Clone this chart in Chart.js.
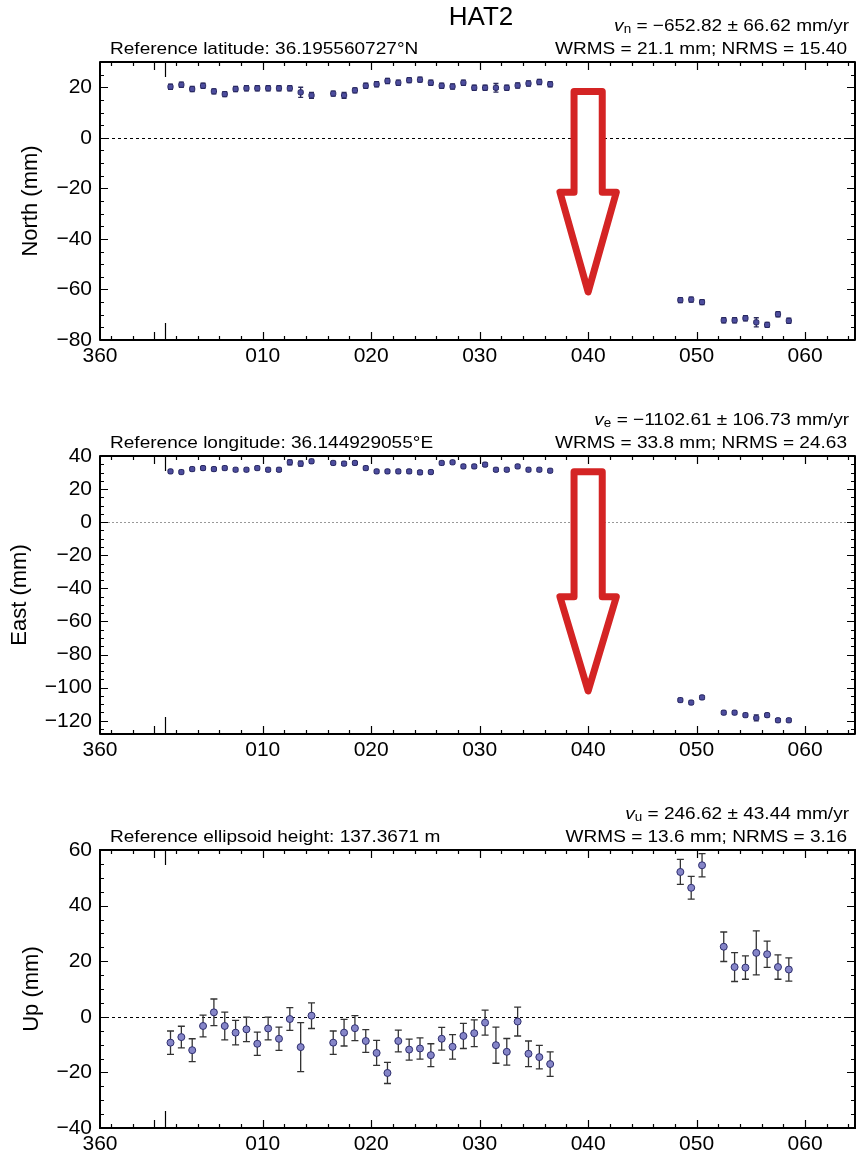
<!DOCTYPE html>
<html>
<head>
<meta charset="utf-8">
<script src="https://cdn.jsdelivr.net/npm/chart.js@4.4.1/dist/chart.umd.min.js"></script>
<style>
  html, body { margin: 0; padding: 0; background: #fff; overflow: hidden; }
  .panel { position: relative; width: 860px; height: 394px; }
</style>
</head>
<body>
<div class="panel"><canvas id="chartNorte"></canvas></div>
<div class="panel"><canvas id="chartEste"></canvas></div>
<div class="panel"><canvas id="chartArriba"></canvas></div>
<script>
// Dias (dia del anio, fraccion; negativos = fin de diciembre)
const dias = [1.5, 2.5, 3.5, 4.5, 5.5, 6.5, 7.5, 8.5, 9.5, 10.5, 11.5, 12.5, 13.5, 14.5,
    16.5, 17.5, 18.5, 19.5, 20.5, 21.5, 22.5, 23.5, 24.5, 25.5, 26.5, 27.5, 28.5, 29.5, 30.5,
    31.5, 32.5, 33.5, 34.5, 35.5, 36.5,
    48.5, 49.5, 50.5, 52.5, 53.5, 54.5, 55.5, 56.5, 57.5, 58.5];

const norte = [20.2, 21.0, 19.3, 20.6, 18.4, 17.3, 19.3, 19.6, 19.6, 19.6, 19.6, 19.6, 18.0, 16.8,
    17.5, 16.8, 18.8, 20.6, 21.2, 22.5, 21.8, 22.8, 23.0, 21.8, 20.6, 20.3, 21.8, 19.8, 19.8,
    19.8, 19.8, 20.7, 21.5, 22.1, 21.2,
    -64.2, -64.0, -65.0, -72.2, -72.2, -71.4, -73.0, -74.0, -69.8, -72.4];
const norteErr = [1.0, 1.0, 1.0, 1.0, 1.0, 1.0, 1.0, 1.0, 1.0, 1.0, 1.0, 1.0, 2.0, 1.2,
    1.0, 1.2, 1.0, 1.0, 1.0, 1.0, 1.0, 1.0, 1.0, 1.0, 1.0, 1.0, 1.0, 1.0, 1.0,
    1.7, 1.0, 1.0, 1.0, 1.0, 1.0,
    1.0, 1.0, 1.0, 1.0, 1.0, 1.0, 1.8, 1.0, 1.0, 1.0];

const este = [30.7, 30.3, 32.1, 32.7, 32.1, 32.7, 31.7, 31.7, 32.7, 31.7, 31.7, 36.2, 35.4, 36.8,
    35.8, 35.4, 35.8, 32.7, 30.7, 30.7, 30.7, 30.7, 30.1, 30.3, 35.8, 36.2, 33.7, 33.7, 34.8,
    31.7, 31.7, 33.7, 31.7, 31.7, 31.1,
    -107.5, -109.0, -105.9, -115.1, -115.1, -116.6, -118.3, -116.6, -119.7, -119.7];
const esteErr = [1.0, 1.0, 1.0, 1.0, 1.0, 1.0, 1.0, 1.0, 1.0, 1.0, 1.0, 1.5, 1.5, 1.2,
    1.0, 1.0, 1.0, 1.0, 1.0, 1.0, 1.0, 1.0, 1.0, 1.0, 1.0, 1.0, 1.0, 1.0, 1.0,
    1.0, 1.0, 1.0, 1.0, 1.0, 1.0,
    1.0, 1.0, 1.0, 1.0, 1.0, 1.0, 1.8, 1.0, 1.0, 1.0];

const arriba = [-9.3, -7.3, -12.0, -3.3, 1.6, -3.3, -5.7, -4.5, -9.7, -4.2, -7.9, -0.8, -10.9, 0.4,
    -9.3, -5.7, -4.1, -8.7, -13.0, -20.2, -8.7, -11.8, -11.4, -13.8, -7.9, -10.8, -6.9, -5.9, -2.1,
    -10.2, -12.6, -1.7, -13.3, -14.5, -17.0,
    52.1, 46.4, 54.5, 25.2, 17.9, 17.7, 23.0, 22.5, 17.9, 17.0];
const arribaErr = [4.2, 3.9, 4.1, 3.9, 4.8, 5.0, 4.4, 4.4, 4.2, 4.1, 4.2, 4.1, 8.8, 4.6,
    4.2, 4.8, 4.5, 4.1, 4.5, 3.8, 3.9, 3.8, 3.8, 4.1, 4.1, 4.4, 4.5, 4.8, 4.5,
    6.5, 4.8, 5.2, 4.6, 4.2, 4.4,
    4.5, 4.1, 4.2, 5.3, 5.2, 4.2, 7.9, 4.7, 4.4, 4.2];

// Marcas de los ejes
const xTicks = [-5, 10, 20, 30, 40, 50, 60];
const xTickLabels = ['360', '010', '020', '030', '040', '050', '060'];
const norteTicks = [-80, -60, -40, -20, 0, 20];
const esteTicks = [-120, -100, -80, -60, -40, -20, 0, 20, 40];
const arribaTicks = [-40, -20, 0, 20, 40, 60];

const fuente = '"Liberation Sans", Arial, Helvetica, sans-serif';
const ESCALA_X = 1.12;  // el texto original es mas ancho

function dibujarTexto(ctx, partes, xDer, y) {
    // partes: [{t, font, dy}] alineadas a la derecha en xDer
    let ancho = 0;
    partes.forEach(p => { ctx.font = p.font; ancho += ctx.measureText(p.t).width; });
    ctx.save();
    ctx.translate(xDer - ancho * ESCALA_X, y);
    ctx.scale(ESCALA_X, 1);
    let x = 0;
    partes.forEach(p => {
        ctx.font = p.font;
        ctx.fillText(p.t, x, p.dy || 0);
        x += ctx.measureText(p.t).width;
    });
    ctx.restore();
}

function pluginPanel(p) {
    return {
        id: 'panel_' + p.id,
        beforeDatasetsDraw(chart) {
            const { ctx, chartArea: a, scales: { x, y } } = chart;
            ctx.save();
            // linea del cero
            ctx.strokeStyle = p.colorCero;
            ctx.lineWidth = 1;
            ctx.setLineDash(p.guionCero);
            ctx.beginPath();
            const y0 = Math.round(y.getPixelForValue(0)) + 0.5;
            ctx.moveTo(a.left, y0);
            ctx.lineTo(a.right, y0);
            ctx.stroke();
            ctx.setLineDash([]);

            // barras de error
            ctx.strokeStyle = p.colorError;
            ctx.lineWidth = 1.3;
            ctx.beginPath();
            p.valores.forEach((v, i) => {
                const px = x.getPixelForValue(dias[i]);
                const y1 = y.getPixelForValue(v - p.errores[i]);
                const y2 = y.getPixelForValue(v + p.errores[i]);
                ctx.moveTo(px, y1); ctx.lineTo(px, y2);
                ctx.moveTo(px - p.tapa, y1); ctx.lineTo(px + p.tapa, y1);
                ctx.moveTo(px - p.tapa, y2); ctx.lineTo(px + p.tapa, y2);
            });
            ctx.stroke();
            ctx.restore();
        },
        afterDraw(chart) {
            const { ctx, chartArea: a, scales: { x, y } } = chart;
            ctx.save();

            // flecha roja
            if (p.flecha) {
                const f = p.flecha;
                const cx = x.getPixelForValue(f.x);
                const sw = x.getPixelForValue(f.x + f.medioAncho) - cx;
                const hw = x.getPixelForValue(f.x + f.medioCabeza) - cx;
                const yA = y.getPixelForValue(f.arriba);
                const yB = y.getPixelForValue(f.base);
                const yP = y.getPixelForValue(f.punta);
                ctx.beginPath();
                ctx.moveTo(cx - sw, yA);
                ctx.lineTo(cx + sw, yA);
                ctx.lineTo(cx + sw, yB);
                ctx.lineTo(cx + hw, yB);
                ctx.lineTo(cx, yP);
                ctx.lineTo(cx - hw, yB);
                ctx.lineTo(cx - sw, yB);
                ctx.closePath();
                ctx.fillStyle = '#fff';
                ctx.fill();
                ctx.strokeStyle = '#d42424';
                ctx.lineWidth = 7;
                ctx.lineJoin = 'round';
                ctx.stroke();
            }

            // marcas hacia adentro
            ctx.strokeStyle = '#000';
            ctx.lineWidth = 1.2;
            ctx.beginPath();
            for (let d = -4; d <= 64; d += 2) {
                const px = Math.round(x.getPixelForValue(d)) + 0.5;
                const largo = d % 10 === 0 ? 8 : 4;
                ctx.moveTo(px, a.bottom); ctx.lineTo(px, a.bottom - largo);
                ctx.moveTo(px, a.top); ctx.lineTo(px, a.top + largo);
            }
            const pxAnio = Math.round(x.getPixelForValue(1)) + 0.5;  // cambio de anio
            ctx.moveTo(pxAnio, a.bottom); ctx.lineTo(pxAnio, a.bottom - 17);
            ctx.moveTo(pxAnio, a.top); ctx.lineTo(pxAnio, a.top + 15);
            for (let v = Math.ceil(y.min / 5) * 5; v <= y.max; v += 5) {
                const py = Math.round(y.getPixelForValue(v)) + 0.5;
                const largo = v % 20 === 0 ? 8 : 4;
                ctx.moveTo(a.left, py); ctx.lineTo(a.left + largo, py);
                ctx.moveTo(a.right, py); ctx.lineTo(a.right - largo, py);
            }
            ctx.stroke();
            ctx.lineWidth = 2;
            ctx.strokeRect(a.left, a.top, a.right - a.left, a.bottom - a.top);

            // textos del encabezado
            ctx.fillStyle = '#000';
            ctx.textBaseline = 'middle';
            ctx.textAlign = 'left';
            if (p.titulo) {
                ctx.save();
                ctx.font = '26px ' + fuente;
                ctx.textAlign = 'center';
                ctx.fillText(p.titulo, 481, 18);
                ctx.restore();
            }
            ctx.save();
            ctx.translate(a.left + 10, a.top - 13);
            ctx.scale(ESCALA_X, 1);
            ctx.font = '17px ' + fuente;
            ctx.fillText(p.referencia, 0, 0);
            ctx.restore();

            dibujarTexto(ctx, [
                { t: 'v', font: 'italic 17px ' + fuente },
                { t: p.sub, font: '12px ' + fuente, dy: 4 },
                { t: p.velocidad, font: '17px ' + fuente }
            ], a.right - 6, a.top - 36);
            dibujarTexto(ctx, [{ t: p.wrms, font: '17px ' + fuente }], a.right - 8, a.top - 13);
            ctx.restore();
        }
    };
}

function crearPanel(canvasId, p) {
    return new Chart(document.getElementById(canvasId), {
        type: 'scatter',
        data: {
            datasets: [{
                data: dias.map((d, i) => ({ x: d, y: p.valores[i] })),
                pointStyle: p.estilo,
                radius: p.radio,
                backgroundColor: p.relleno,
                borderColor: p.borde,
                borderWidth: 1
            }]
        },
        options: {
            responsive: true,
            maintainAspectRatio: false,
            animation: false,
            layout: { padding: { top: 62, right: 2, left: 0, bottom: 0 } },
            plugins: { legend: { display: false }, tooltip: { enabled: false } },
            scales: {
                x: {
                    type: 'linear',
                    min: -5,
                    max: 64.6,
                    afterBuildTicks: s => { s.ticks = xTicks.map(v => ({ value: v })); },
                    afterFit: s => { s.height = 54; },
                    grid: { display: false, drawTicks: false },
                    border: { display: false },
                    ticks: {
                        autoSkip: false,
                        maxRotation: 0,
                        padding: 4,
                        color: '#000',
                        font: { size: 21, family: fuente },
                        callback: v => xTickLabels[xTicks.indexOf(v)]
                    }
                },
                y: {
                    min: p.min,
                    max: p.max,
                    afterBuildTicks: s => { s.ticks = p.ticks.map(v => ({ value: v })); },
                    afterFit: s => { s.width = 100; },
                    grid: { display: false, drawTicks: false },
                    border: { display: false },
                    ticks: {
                        padding: 8,
                        color: '#000',
                        font: { size: 21, family: fuente },
                        callback: v => String(v).replace('-', '\u2212')
                    },
                    title: {
                        display: true,
                        text: p.tituloY,
                        color: '#000',
                        font: { size: 22, family: fuente },
                        padding: { top: p.padTitulo, bottom: 0 }
                    }
                }
            }
        },
        plugins: [pluginPanel(p)]
    });
}

crearPanel('chartNorte', {
    id: 'n', titulo: 'HAT2', valores: norte, errores: norteErr, min: -80, max: 30, ticks: norteTicks,
    tituloY: 'North (mm)', padTitulo: 18,
    referencia: 'Reference latitude: 36.195560727\u00b0N',
    sub: 'n', velocidad: ' = \u2212652.82 \u00b1 66.62 mm/yr', wrms: 'WRMS = 21.1 mm; NRMS = 15.40',
    estilo: 'rectRounded', radio: 3, relleno: '#4d4d9e', borde: '#262660', colorError: '#2a2a5a', tapa: 2.5,
    colorCero: '#000', guionCero: [3, 3],
    flecha: { x: 40, medioAncho: 1.3, medioCabeza: 2.6, arriba: 18.3, base: -21.5, punta: -61 }
});

crearPanel('chartEste', {
    id: 'e', valores: este, errores: esteErr, min: -128, max: 40, ticks: esteTicks,
    tituloY: 'East (mm)', padTitulo: 7,
    referencia: 'Reference longitude: 36.144929055\u00b0E',
    sub: 'e', velocidad: ' = \u22121102.61 \u00b1 106.73 mm/yr', wrms: 'WRMS = 33.8 mm; NRMS = 24.63',
    estilo: 'rectRounded', radio: 3, relleno: '#4d4d9e', borde: '#262660', colorError: '#2a2a5a', tapa: 2.5,
    colorCero: '#999', guionCero: [2, 2],
    flecha: { x: 40, medioAncho: 1.3, medioCabeza: 2.6, arriba: 30.5, base: -45, punta: -102 }
});

crearPanel('chartArriba', {
    id: 'u', valores: arriba, errores: arribaErr, min: -40, max: 60, ticks: arribaTicks,
    tituloY: 'Up (mm)', padTitulo: 19,
    referencia: 'Reference ellipsoid height: 137.3671 m',
    sub: 'u', velocidad: ' = 246.62 \u00b1 43.44 mm/yr', wrms: 'WRMS = 13.6 mm; NRMS = 3.16',
    estilo: 'circle', radio: 3.5, relleno: '#8585c8', borde: '#2e2e6e', colorError: '#333', tapa: 3.5,
    colorCero: '#000', guionCero: [3, 3]
});
</script>
</body>
</html>
